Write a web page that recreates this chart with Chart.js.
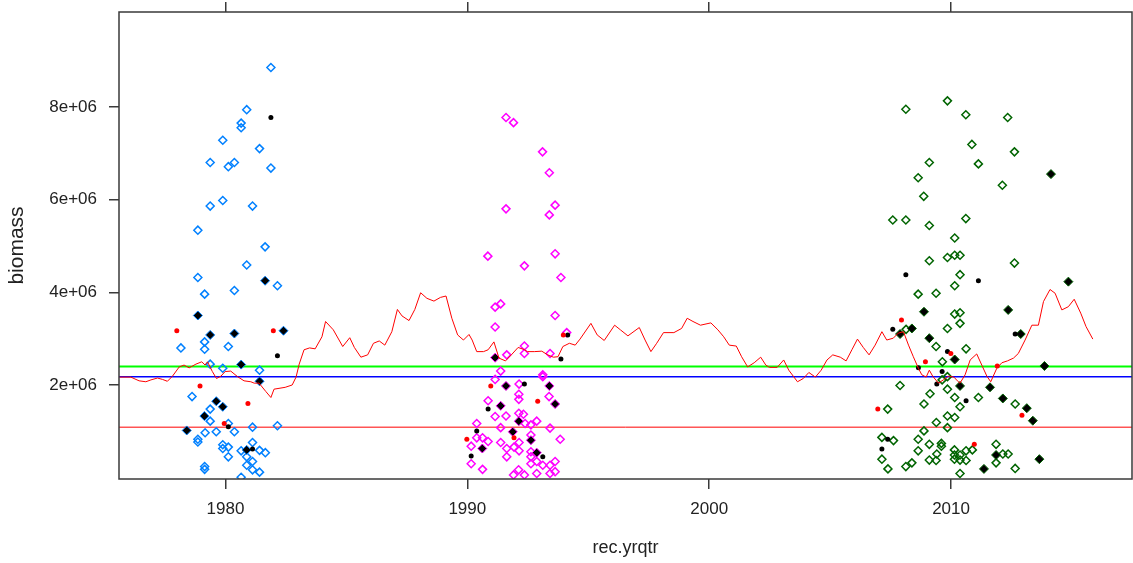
<!DOCTYPE html>
<html>
<head>
<meta charset="utf-8">
<script src="https://cdn.jsdelivr.net/npm/chart.js@4.4.1/dist/chart.umd.min.js"></script>
<style>
  html, body { margin: 0; padding: 0; background: #fff; }
  #wrap { width: 1133px; height: 563px; }
</style>
</head>
<body>
<div id="wrap"><canvas id="biomassChart" width="1133" height="563"></canvas></div>
<script>
// biomass in millions, year as decimal
const M = 1e6;

const xTicks = [1980, 1990, 2000, 2010];
const yTicks = [2e6, 4e6, 6e6, 8e6];

// red running series
const lineYears = [1975.61,1976.09,1976.43,1976.71,1976.92,1977.19,1977.40,1977.60,1977.81,1978.09,
  1978.29,1978.50,1978.78,1979.02,1979.16,1979.26,1979.46,1979.63,1979.81,1979.99,
  1980.22,1980.50,1980.77,1981.05,1981.19,1981.39,1981.67,1981.88,1982.01,1982.47,
  1982.76,1982.92,1983.05,1983.25,1983.48,1983.71,1983.99,1984.14,1984.46,1984.85,
  1985.14,1985.33,1985.60,1985.88,1986.12,1986.36,1986.59,1986.88,1987.11,1987.30,
  1987.59,1987.83,1988.07,1988.33,1988.62,1988.89,1989.12,1989.36,1989.60,1989.84,
  1990.07,1990.20,1990.39,1990.67,1990.86,1991.10,1991.31,1991.58,1991.82,1992.10,
  1992.37,1992.48,1992.77,1993.08,1993.32,1993.56,1993.75,1993.95,1994.22,1994.46,
  1994.66,1995.11,1995.37,1995.66,1996.09,1996.33,1996.64,1997.11,1997.35,1997.59,
  1997.83,1998.11,1998.54,1998.86,1999.09,1999.33,1999.64,2000.07,2000.36,2000.60,
  2000.83,2001.12,2001.34,2001.59,2001.86,2002.13,2002.34,2002.49,2002.81,2003.08,
  2003.29,2003.65,2003.89,2004.12,2004.39,2004.63,2004.87,2005.11,2005.42,2005.66,
  2005.90,2006.13,2006.37,2006.61,2006.86,2007.14,2007.34,2007.61,2007.82,2008.03,
  2008.24,2008.44,2008.65,2008.79,2008.97,2009.10,2009.24,2009.48,2009.68,2009.89,
  2010.12,2010.26,2010.37,2010.58,2010.79,2011.06,2011.27,2011.48,2011.64,2011.89,
  2012.10,2012.33,2012.58,2012.78,2013.06,2013.34,2013.61,2013.82,2014.09,2014.30,
  2014.58,2014.85,2015.09,2015.36,2015.58,2015.86];
const lineValues = [2.17,2.17,2.09,2.07,2.11,2.15,2.12,2.08,2.19,2.39,
  2.43,2.37,2.45,2.50,2.43,2.50,2.29,2.14,2.19,2.29,
  2.30,2.18,2.09,2.07,2.04,2.04,1.86,1.73,1.91,1.95,
  2.00,2.17,2.45,2.76,2.80,2.78,3.04,3.37,3.19,2.83,
  3.02,2.81,2.60,2.65,2.90,2.95,2.86,3.15,3.63,3.49,
  3.39,3.63,3.99,3.87,3.81,3.89,3.92,3.44,3.08,2.97,
  3.09,2.97,2.72,2.72,2.76,2.93,2.58,2.52,2.65,2.81,
  2.76,2.72,2.72,2.73,2.65,2.60,2.61,2.83,2.90,2.86,
  2.99,3.33,3.08,2.96,3.29,3.19,3.06,3.24,2.97,2.72,
  2.90,3.13,3.13,3.22,3.44,3.37,3.29,3.34,3.19,3.04,
  2.86,2.84,2.61,2.39,2.48,2.60,2.43,2.38,2.38,2.54,
  2.32,2.07,2.14,2.27,2.17,2.32,2.54,2.65,2.60,2.52,
  2.76,2.99,2.81,2.65,2.86,3.15,2.97,3.01,3.12,3.15,
  2.86,2.61,2.36,2.22,2.17,2.32,2.19,2.04,2.11,2.19,
  2.17,2.09,2.04,2.22,2.54,2.67,2.43,2.19,2.07,2.36,
  2.48,2.52,2.58,2.68,2.97,3.29,3.29,3.80,4.06,3.98,
  3.62,3.69,3.85,3.55,3.26,2.99];

// survey period 1 (blue)
const blueYears = [1981.88,1980.88,1980.65,1980.65,1979.89,1981.41,1979.37,1980.37,1980.12,1981.88,
  1979.37,1979.89,1981.12,1978.86,1981.64,1980.88,1978.86,1982.15,1979.14,1980.37,
  1979.14,1979.14,1978.16,1980.12,1979.37,1979.89,1981.41,1978.62,1979.37,1979.37,
  1980.12,1980.37,1981.12,1982.15,1979.16,1979.62,1978.86,1978.86,1979.89,1979.89,
  1980.12,1980.12,1980.65,1981.12,1981.41,1981.65,1980.88,1981.12,1980.88,1981.12,
  1981.41,1979.14,1979.14,1980.65];
const blueValues = [8.85,7.94,7.65,7.55,7.28,7.10,6.80,6.80,6.71,6.68,
  5.86,5.98,5.86,5.34,4.98,4.59,4.32,4.14,3.96,4.04,
  2.93,2.77,2.80,2.83,2.45,2.36,2.32,1.75,1.48,1.22,
  1.17,0.99,1.09,1.12,0.97,0.99,0.83,0.77,0.71,0.63,
  0.66,0.45,0.58,0.76,0.59,0.54,0.45,0.35,0.27,0.17,
  0.12,0.24,0.18,0.01];
const blueFilledYears = [1978.86,1979.37,1980.37,1982.40,1981.64,1980.65,1981.41,1979.62,1979.89,1979.13,1978.40,1980.88];
const blueFilledValues = [3.50,3.08,3.11,3.17,4.25,2.44,2.08,1.65,1.53,1.33,1.02,0.60];

// survey period 2 (magenta)
const magentaYears = [1991.60,1991.91,1993.11,1993.39,1991.60,1993.63,1993.39,1990.85,1993.63,1992.36,
  1993.87,1991.15,1991.38,1993.63,1991.15,1994.11,1991.63,1992.36,1992.36,1993.42,
  1991.38,1991.15,1992.14,1993.12,1993.12,1992.13,1992.13,1993.38,1990.86,1991.60,
  1991.15,1992.13,1992.32,1992.39,1992.87,1990.39,1993.42,1991.38,1992.63,1990.63,
  1990.39,1990.86,1992.63,1990.16,1991.38,1992.14,1993.84,1991.63,1991.93,1992.14,
  1992.63,1991.63,1992.63,1992.87,1990.16,1990.63,1992.12,1991.91,1992.36,1992.63,
  1993.12,1993.42,1993.63,1993.63,1992.87,1993.42];
const magentaValues = [7.77,7.66,7.03,6.58,5.80,5.88,5.67,4.78,4.83,4.57,
  4.32,3.68,3.75,3.50,3.25,3.13,2.65,2.84,2.68,2.68,
  2.30,2.12,2.02,2.22,2.18,1.80,1.69,1.75,1.66,1.33,
  1.32,1.39,1.37,1.17,1.22,1.17,1.07,1.08,1.14,0.86,
  0.86,0.78,0.92,0.68,0.76,0.76,0.83,0.63,0.66,0.58,
  0.56,0.45,0.45,0.35,0.30,0.18,0.17,0.06,0.06,0.30,
  0.27,0.27,0.35,0.13,0.09,0.09];
const magentaFilledYears = [1991.15,1991.60,1993.39,1993.63,1991.38,1992.13,1991.88,1992.63,1990.62,1992.87];
const magentaFilledValues = [2.59,1.98,1.98,1.59,1.55,1.22,0.99,0.81,0.63,0.54];

// survey period 3 (green)
const greenYears = [2008.13,2009.85,2010.61,2012.34,2010.86,2012.62,2009.10,2011.13,2008.64,2012.12,
  2008.87,2007.59,2008.13,2009.10,2010.61,2010.15,2009.10,2009.85,2010.15,2010.37,
  2012.62,2010.37,2010.15,2008.64,2009.38,2010.15,2010.37,2010.37,2009.85,2008.14,
  2009.38,2010.62,2009.64,2009.85,2009.63,2007.89,2009.85,2009.13,2010.15,2011.13,
  2008.88,2010.37,2012.65,2007.38,2009.85,2010.15,2009.39,2009.85,2008.88,2008.64,
  2007.14,2007.62,2009.10,2009.60,2009.60,2008.64,2010.14,2010.62,2010.88,2011.86,
  2009.41,2010.14,2010.37,2012.14,2012.36,2007.14,2009.10,2009.38,2010.14,2010.37,
  2010.62,2008.38,2008.13,2007.39,2011.86,2012.65,2010.37];
const greenValues = [7.95,8.13,7.83,7.77,7.19,7.03,6.80,6.77,6.47,6.31,
  6.07,5.56,5.56,5.44,5.59,5.17,4.68,4.75,4.80,4.80,
  4.63,4.38,4.14,3.96,3.98,3.53,3.56,3.33,3.22,3.20,
  2.83,2.78,2.50,2.18,2.11,1.99,1.91,1.81,1.73,1.73,
  1.59,1.53,1.59,1.48,1.33,1.30,1.19,1.08,1.01,0.83,
  0.87,0.80,0.72,0.74,0.68,0.58,0.60,0.58,0.60,0.72,
  0.51,0.49,0.49,0.51,0.51,0.40,0.38,0.37,0.40,0.38,
  0.37,0.32,0.24,0.19,0.32,0.20,0.09];
const greenFilledYears = [2014.13,2014.85,2008.88,2012.36,2008.38,2007.89,2012.88,2009.10,2010.15,2013.86,
  2010.37,2011.61,2012.14,2013.13,2013.38,2011.86,2013.65,2011.36];
const greenFilledValues = [6.55,4.23,3.58,3.62,3.22,3.10,3.10,3.01,2.55,2.41,
  1.98,1.95,1.71,1.50,1.23,0.49,0.40,0.19];

// small black and red markers
const blackDotYears = [1981.88,1982.15,1980.12,1981.12,1994.15,1993.87,1992.36,1990.86,1990.39,1990.16,1993.12,
  2008.13,2011.13,2007.59,2012.65,2009.85,2008.65,2009.63,2009.41,2010.62,2007.38,2007.14];
const blackDotValues = [7.77,2.63,1.10,0.62,3.08,2.56,2.02,1.48,1.01,0.47,0.45,
  4.38,4.25,3.20,3.10,2.72,2.37,2.29,2.02,1.66,0.83,0.62];
const redDotYears = [1977.99,1981.98,1978.95,1980.93,1979.95,1993.97,1990.97,1992.91,1989.98,1991.93,
  2007.95,2009.99,2008.94,2011.91,2006.97,2012.93,2010.96];
const redDotValues = [3.17,3.17,1.98,1.60,1.17,3.08,1.98,1.65,0.83,0.86,
  3.40,2.68,2.50,2.41,1.48,1.35,0.72];

// reference levels
const refLevels = [2.40, 2.18, 1.09];
const refColors = ['#00ff00', '#0000ff', '#ff0000'];
const refWidths = [2, 1.5, 1];

const X_MIN = 1975.6, X_MAX = 2017.48;
const Y_MIN = -0.028 * M, Y_MAX = 10.047 * M;

const FONT = 'Arial, "Liberation Sans", sans-serif';
const AXIS_COL = '#3a3a3a';

function pts(xs, ys) {
  return xs.map((x, i) => ({ x: x, y: ys[i] * M }));
}

function openDiamonds(label, xs, ys, col) {
  return {
    type: 'scatter', label, data: pts(xs, ys),
    pointStyle: 'rectRot', pointRadius: 4, borderWidth: 1.5,
    borderColor: col, backgroundColor: 'rgba(0,0,0,0)'
  };
}

function filledDiamonds(label, xs, ys, edge) {
  return {
    type: 'scatter', label, data: pts(xs, ys),
    pointStyle: 'rectRot', pointRadius: 4.5, borderWidth: 1,
    borderColor: edge, backgroundColor: '#000'
  };
}

function dots(label, xs, ys, col) {
  return {
    type: 'scatter', label, data: pts(xs, ys),
    pointStyle: 'circle', pointRadius: 2.5, borderWidth: 0,
    borderColor: col, backgroundColor: col
  };
}

const refSets = refLevels.map((v, i) => ({
  type: 'line', label: 'ref' + i,
  data: [{ x: X_MIN, y: v * M }, { x: X_MAX, y: v * M }],
  borderColor: refColors[i], borderWidth: refWidths[i],
  pointRadius: 0, fill: false
}));

// first dataset ends up on top
const datasets = [
  {
    type: 'line', label: 'running', data: pts(lineYears, lineValues),
    borderColor: '#ff0000', borderWidth: 1, pointRadius: 0, tension: 0, fill: false
  },
  dots('red', redDotYears, redDotValues, '#ff0000'),
  dots('black', blackDotYears, blackDotValues, '#000'),
  filledDiamonds('p1 filled', blueFilledYears, blueFilledValues, '#0080ff'),
  filledDiamonds('p2 filled', magentaFilledYears, magentaFilledValues, '#ff00ff'),
  filledDiamonds('p3 filled', greenFilledYears, greenFilledValues, '#006400'),
  openDiamonds('p1', blueYears, blueValues, '#0080ff'),
  openDiamonds('p2', magentaYears, magentaValues, '#ff00ff'),
  openDiamonds('p3', greenYears, greenValues, '#006400'),
  ...refSets
];

// box round the panel
const framePlugin = {
  id: 'frame',
  afterDraw(chart) {
    const { ctx, chartArea: a } = chart;
    ctx.save();
    ctx.strokeStyle = AXIS_COL;
    ctx.lineWidth = 1.5;
    ctx.strokeRect(a.left, a.top, a.right - a.left, a.bottom - a.top);
    ctx.restore();
  }
};

const tickGrid = { drawOnChartArea: false, drawTicks: true, tickLength: 10, color: AXIS_COL, lineWidth: 1.5 };

// fixed box sizes, no label overhang padding
function fixSize(w, h) {
  return s => {
    if (w !== null) s.width = w;
    if (h !== null) s.height = h;
    s.paddingLeft = s.paddingRight = s.paddingTop = s.paddingBottom = 0;
  };
}

new Chart(document.getElementById('biomassChart'), {
  type: 'scatter',
  data: { datasets },
  options: {
    responsive: false,
    animation: false,
    layout: { autoPadding: false, padding: { left: 0, right: 1, top: 0, bottom: 0 } },
    plugins: { legend: { display: false }, tooltip: { enabled: false } },
    scales: {
      x: {
        type: 'linear', position: 'bottom', min: X_MIN, max: X_MAX,
        afterBuildTicks: s => { s.ticks = xTicks.map(v => ({ value: v })); },
        afterFit: fixSize(null, 84),
        grid: tickGrid,
        border: { display: false },
        ticks: { color: '#222', font: { family: FONT, size: 17 }, padding: 10, maxRotation: 0, callback: v => String(v) },
        title: { display: true, text: 'rec.yrqtr', color: '#222', font: { family: FONT, size: 18 }, padding: { top: 0, bottom: 4 } }
      },
      xTop: {
        type: 'linear', position: 'top', min: X_MIN, max: X_MAX,
        afterBuildTicks: s => { s.ticks = xTicks.map(v => ({ value: v })); },
        afterFit: fixSize(null, 12),
        grid: tickGrid,
        border: { display: false },
        ticks: { display: false }
      },
      y: {
        type: 'linear', position: 'left', min: Y_MIN, max: Y_MAX,
        afterBuildTicks: s => { s.ticks = yTicks.map(v => ({ value: v })); },
        afterFit: fixSize(119, null),
        grid: tickGrid,
        border: { display: false },
        ticks: { color: '#222', font: { family: FONT, size: 17 }, padding: 12, callback: v => (v / M) + 'e+06' },
        title: { display: true, text: 'biomass', color: '#222', font: { family: FONT, size: 21 }, padding: { top: 5, bottom: 0 } }
      }
    }
  },
  plugins: [framePlugin]
});
</script>
</body>
</html>
